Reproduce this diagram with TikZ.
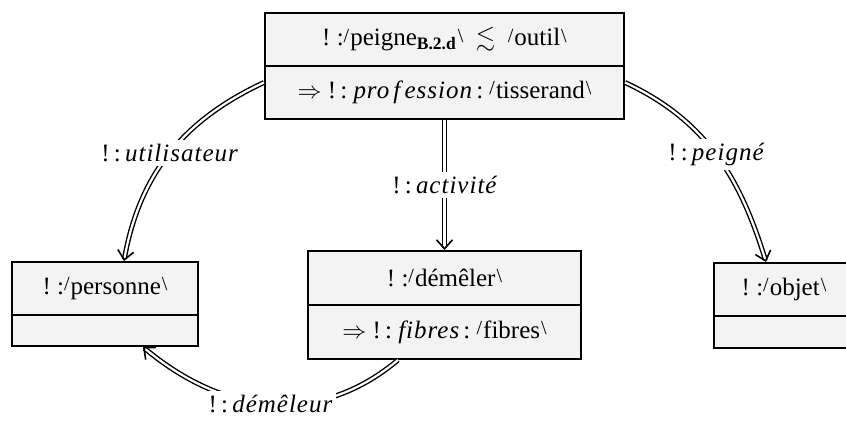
\documentclass[tikz,border=0pt]{standalone}
\usepackage{amsmath,amssymb}
\usepackage{fontspec}
\setmainfont{Liberation Serif}
\usetikzlibrary{arrows.meta}
\definecolor{boxgray}{HTML}{F3F3F3}
\newcommand{\fs}{\fontsize{12.5}{14}\selectfont}
\newcommand{\lmk}{\raisebox{0.32ex}{\fontsize{10}{10}\selectfont/}}
\newcommand{\rmk}{\raisebox{0.32ex}{\fontsize{10}{10}\selectfont\textbackslash}}
\newcommand{\vn}[1]{\lmk\kern0.5pt#1\kern0.5pt\rmk}
\newcommand{\itw}[1]{{\itshape\addfontfeature{LetterSpace=4}#1}}
\begin{document}
\begin{tikzpicture}[x=0.5pt,y=-0.5pt,
  box/.style={draw, line width=1pt, fill=boxgray, inner sep=0pt, anchor=north west, font=\fs},
  rel/.style={line width=0.7pt, double distance=1.1pt, -{Straight Barb[length=4.5pt, width=8pt, line width=0.8pt]}},
  lbl/.style={fill=white, inner sep=2pt, font=\fs}]
\useasboundingbox (0,0) rectangle (846,421);
% top box
\node[box, minimum width=179.5pt, minimum height=26.5pt] (t1) at (264,12)
  {!\ :\vn{peigne\textsubscript{\textbf{B.2.d}}}\enspace$\lesssim$\enspace\vn{outil}};
\node[box, minimum width=179.5pt, minimum height=26.5pt] (t2) at (264,65)
  {$\Rightarrow$\ !\,:\ \itw{pro\,f\,ession}\,:\ \vn{tisserand}};
% personne
\node[box, minimum width=93pt, minimum height=26.5pt] (p1) at (11,261) {!\ :\vn{personne}};
\node[box, minimum width=93pt, minimum height=15.5pt] (p2) at (11,314) {};
% demeler
\node[box, minimum width=136.5pt, minimum height=27pt] (d1) at (307,250) {!\ :\vn{démêler}};
\node[box, minimum width=136.5pt, minimum height=27pt] (d2) at (307,304)
  {$\Rightarrow$\ !\,:\ \itw{fibres}\,:\ \vn{fibres}};
% objet
\node[box, minimum width=70pt, minimum height=26.5pt] (o1) at (713,262) {!\ :\vn{objet}};
\node[box, minimum width=70pt, minimum height=16pt] (o2) at (713,315) {};
% connectors
\draw[rel] ([yshift=5pt]t2.west) to[out=205,in=80]
  node[lbl]{!\,:\,\itw{utilisateur}} ([xshift=9.5pt]p1.north);
\draw[rel] (t2.south) -- node[lbl]{!\,:\,\itw{activité}} (d1.north);
\draw[rel] ([yshift=5pt]t2.east) to[out=-25,in=107]
  node[lbl]{!\,:\,\itw{peigné}} ([xshift=-9pt]o1.north);
\draw[rel] ([xshift=-23.25pt]d2.south) to[out=220,in=-40, looseness=1.05]
  node[lbl]{!\,:\,\itw{démêleur}} ([xshift=19pt]p2.south);
\end{tikzpicture}
\end{document}
